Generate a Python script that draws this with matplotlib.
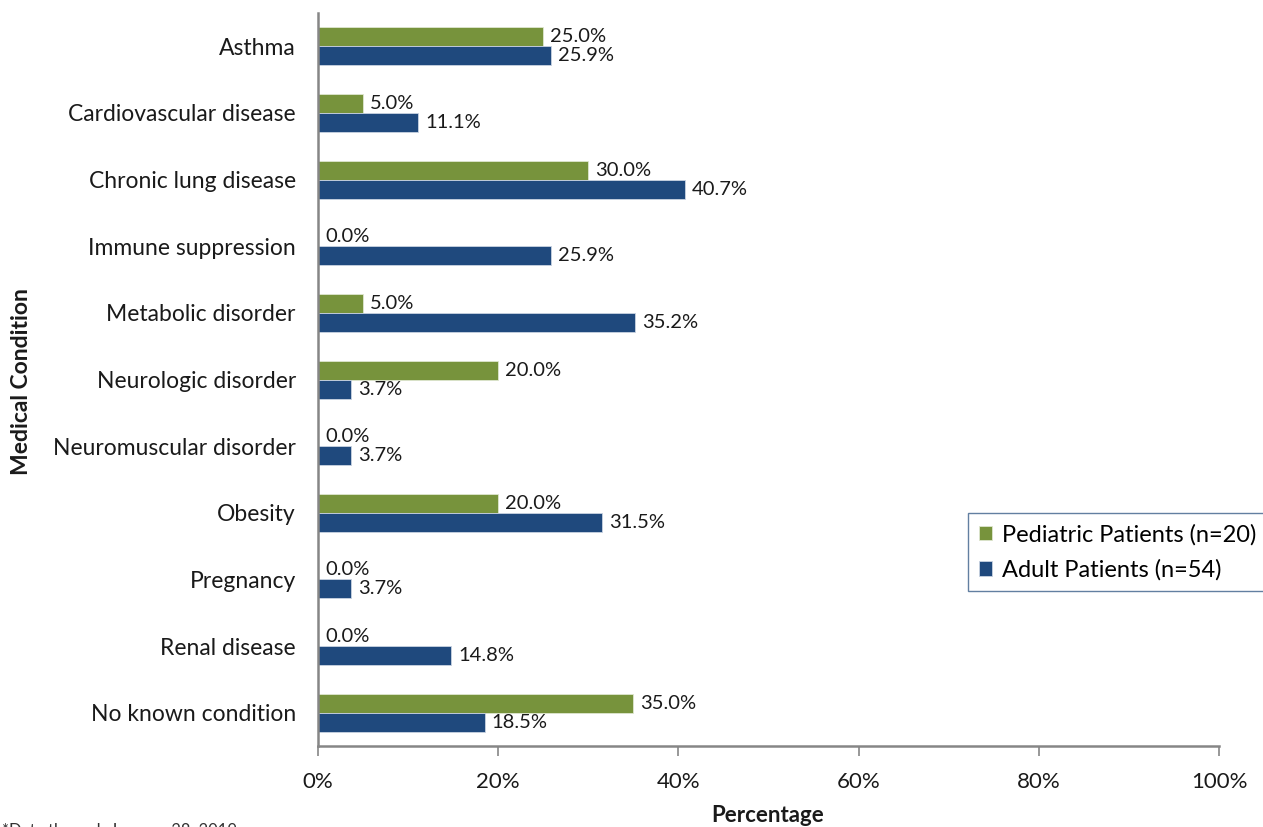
import matplotlib
matplotlib.use("Agg")
import matplotlib.pyplot as plt
from matplotlib.ticker import FuncFormatter, MultipleLocator
import numpy as np

plt.rcParams['font.family'] = ['Lato', 'DejaVu Sans']

conditions = ["Asthma", "Cardiovascular disease", "Chronic lung disease",
              "Immune suppression", "Metabolic disorder", "Neurologic disorder",
              "Neuromuscular disorder", "Obesity", "Pregnancy", "Renal disease",
              "No known condition"]
pediatric = [25.0, 5.0, 30.0, 0.0, 5.0, 20.0, 0.0, 20.0, 0.0, 0.0, 35.0]
adult = [25.9, 11.1, 40.7, 25.9, 35.2, 3.7, 3.7, 31.5, 3.7, 14.8, 18.5]
series_names = ["Pediatric Patients (n=20)", "Adult Patients (n=54)"]

green = "#77933C"
blue = "#1F497D"
axis_gray = "#868686"
text_color = "#1a1a1a"

fig = plt.figure(figsize=(12.63, 8.27), dpi=100)
ax = fig.add_axes([0.2518, 0.0979, 0.9652 - 0.2518, 0.9843 - 0.0979])

y = np.arange(len(conditions))
h = 0.285
b1 = ax.barh(y - h / 2, pediatric, height=h, color=green, edgecolor="#dfe6d0",
             linewidth=0.6, label=series_names[0])
b2 = ax.barh(y + h / 2, adult, height=h, color=blue, edgecolor="#c9d3e2",
             linewidth=0.6, label=series_names[1])

for bars, vals in ((b1, pediatric), (b2, adult)):
    for bar, v in zip(bars, vals):
        ax.annotate(f"{v:.1f}%", (v, bar.get_y() + bar.get_height() / 2),
                    xytext=(5, 0), textcoords="offset points",
                    va="center", ha="left", fontsize=14.5, color=text_color)

ax.set_xlim(0, 100)
ax.set_ylim(len(conditions) - 0.5, -0.5)
ax.xaxis.set_major_locator(MultipleLocator(20))
ax.xaxis.set_major_formatter(FuncFormatter(lambda v, p: f"{v:.0f}%"))
ax.set_yticks(y)
ax.set_yticklabels(conditions)

for s in ("top", "right"):
    ax.spines[s].set_visible(False)
for s in ("left", "bottom"):
    ax.spines[s].set_color(axis_gray)
    ax.spines[s].set_linewidth(1.8)

ax.tick_params(axis="y", length=0, pad=16, labelsize=16.5, labelcolor=text_color)
ax.tick_params(axis="x", length=7, width=1.2, color=axis_gray, pad=12,
               labelsize=16, labelcolor=text_color)

fig.text(768 / 1263, 1 - 815 / 827, "Percentage", fontsize=16,
         fontweight="bold", ha="center", va="center", color=text_color)
fig.text(22 / 1263, 1 - 382 / 827, "Medical Condition", rotation=90,
         fontsize=16.5, fontweight="bold", ha="center", va="center",
         color=text_color)

leg = ax.legend(loc="upper left", bbox_to_anchor=(968 / 1263, 1 - 513 / 827),
                bbox_transform=fig.transFigure, frameon=True, fancybox=False,
                fontsize=17, handlelength=0.55, handleheight=0.55,
                handletextpad=0.45, labelspacing=0.6, borderpad=0.45,
                borderaxespad=0)
leg.get_frame().set_edgecolor("#3b5f8a")
leg.get_frame().set_linewidth(1.0)

fig.text(2 / 1263, 4 / 827, "*Data through January 28, 2019", fontsize=12,
         ha="left", va="top", color="#333333")

fig.savefig("out.png", dpi=100)
